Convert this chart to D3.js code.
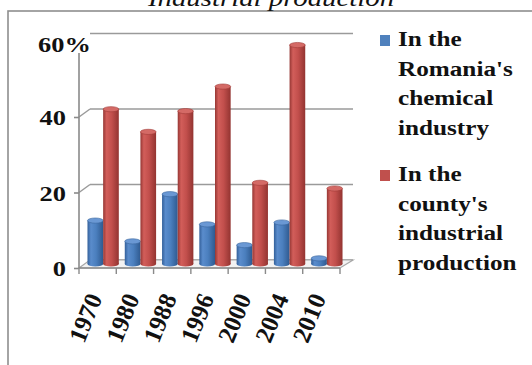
<!DOCTYPE html>
<html>
<head>
<meta charset="utf-8">
<script src="https://cdn.jsdelivr.net/npm/d3@7/dist/d3.min.js"></script>
<style>
  html, body { margin: 0; padding: 0; background: #fff; }
  svg { display: block; }
  text { font-family: "Liberation Serif", "Times New Roman", serif; }
</style>
</head>
<body>
<svg id="chart" width="532" height="365"></svg>
<script>
// Share of the county's output, by year (%)
const years = ["1970", "1980", "1988", "1996", "2000", "2004", "2010"];
const chemicalShare = [11.5, 6, 18.5, 10.5, 5, 11, 1.5];     // in Romania's chemical industry
const industrialShare = [41, 35, 40.5, 47, 21.5, 58, 20];    // in the county's industrial production
const yTicks = [0, 20, 40, 60];
const yTickLabels = ["0", "20", "40", "60%"];
const seriesKeys = ["chem", "ind"];
const legendLines = [
  ["In the", "Romania's", "chemical", "industry"],
  ["In the", "county's", "industrial", "production"]
];
const titleText = "Industrial production";

const FONT = "'Liberation Serif', 'Times New Roman', serif";
const svg = d3.select("#chart");
const SX = 1.2; // horizontal stretch applied to the lettering

// Frame around the chart
svg.append("rect")
  .attr("x", 8).attr("y", 11).attr("width", 600).attr("height", 400)
  .attr("fill", "#fff").attr("stroke", "#8e8e8e").attr("stroke-width", 1.6);

// Title
svg.append("text")
  .attr("transform", `translate(271,6) scale(${SX},1)`)
  .attr("text-anchor", "middle")
  .attr("font-family", FONT)
  .attr("font-style", "italic")
  .attr("font-size", 24)
  .attr("fill", "#111")
  .text(titleText);

// 3D geometry: front plane and depth offset of the back wall
const front = { x0: 79, x1: 340 };
const depth = { dx: 11, dy: -8 };

const yFront = d3.scaleLinear().domain([0, 60]).range([268, 41.5]);
const yBack = v => yFront(v) + depth.dy;
const yMid = v => yFront(v) + depth.dy / 2;

const x = d3.scaleBand().domain(years).range([front.x0, front.x1])
  .paddingInner(0.16).paddingOuter(0.08);
const xs = d3.scaleBand().domain(seriesKeys).range([0, x.bandwidth()]);
const xTick = d3.scaleBand().domain(years).range([front.x0, front.x1]);

const gridColor = "#9a9a9a";

// Back-wall gridlines and their side-wall returns
const grid = svg.append("g");
yTicks.forEach(t => {
  grid.append("line")
    .attr("x1", front.x0 + depth.dx).attr("x2", front.x1 + depth.dx + 2)
    .attr("y1", yBack(t)).attr("y2", yBack(t))
    .attr("stroke", gridColor).attr("stroke-width", 1.6);
  if (t > 0 && t < 60) {
    grid.append("line")
      .attr("x1", front.x0).attr("y1", yFront(t))
      .attr("x2", front.x0 + depth.dx).attr("y2", yBack(t))
      .attr("stroke", gridColor).attr("stroke-width", 1.4);
  }
});

// Floor
svg.append("path")
  .attr("d", `M${front.x0},${yFront(0)} L${front.x1},${yFront(0)} L${front.x1 + depth.dx + 2},${yBack(0)} L${front.x0 + depth.dx},${yBack(0)} Z`)
  .attr("fill", "#f2f2f2").attr("stroke", "#a8a8a8").attr("stroke-width", 1.2);

// Cylinder shading
const defs = svg.append("defs");
function grad(id, stops) {
  const g = defs.append("linearGradient").attr("id", id)
    .attr("x1", "0%").attr("x2", "100%").attr("y1", "0%").attr("y2", "0%");
  stops.forEach(([o, c]) => g.append("stop").attr("offset", o).attr("stop-color", c));
}
grad("gChem", [["0%", "#33609a"], ["22%", "#5a8ccc"], ["55%", "#4b7fbe"], ["100%", "#2f5a90"]]);
grad("gInd", [["0%", "#963734"], ["22%", "#d25e5a"], ["55%", "#c24f4c"], ["100%", "#933431"]]);
const styles = {
  chem: { fill: "url(#gChem)", cap: "#6a98d4", edge: "#3a669e" },
  ind: { fill: "url(#gInd)", cap: "#d46a66", edge: "#a13b38" }
};

const rows = years.map((yr, i) => ({ yr, chem: chemicalShare[i], ind: industrialShare[i] }));
const bars = svg.append("g");
rows.forEach(r => {
  seriesKeys.forEach(k => {
    const bx = x(r.yr) + xs(k) + depth.dx / 2;
    const bw = xs.bandwidth();
    const yt = yMid(r[k]);
    const yb = yMid(0);
    const st = styles[k];
    const ry = 2.6;
    const g = bars.append("g");
    g.append("ellipse").attr("cx", bx + bw / 2).attr("cy", yb).attr("rx", bw / 2).attr("ry", ry)
      .attr("fill", st.fill);
    g.append("rect").attr("x", bx).attr("y", yt).attr("width", bw).attr("height", Math.max(0, yb - yt))
      .attr("fill", st.fill);
    g.append("ellipse").attr("cx", bx + bw / 2).attr("cy", yt).attr("rx", bw / 2).attr("ry", ry)
      .attr("fill", st.cap).attr("stroke", st.edge).attr("stroke-width", 0.6);
  });
});

// Vertical axis (front edge)
svg.append("line")
  .attr("x1", front.x0).attr("x2", front.x0)
  .attr("y1", 53).attr("y2", yFront(0))
  .attr("stroke", "#8a8a8a").attr("stroke-width", 1.6);

const yAxis = svg.append("g")
  .attr("transform", `translate(${front.x0},0)`)
  .call(d3.axisLeft(yFront).tickValues(yTicks.slice(0, 3)).tickSize(5).tickFormat(""));
yAxis.select(".domain").remove();
yAxis.selectAll(".tick line").attr("stroke", "#8a8a8a").attr("stroke-width", 1.6);

const yLab = svg.append("g");
yTicks.forEach((t, i) => {
  const is60 = t === 60;
  yLab.append("text")
    .attr("transform", is60 ? `translate(38,${yFront(t) + 10}) scale(${SX},1)`
                            : `translate(66,${yFront(t) + 8}) scale(${SX},1)`)
    .attr("text-anchor", is60 ? "start" : "end")
    .attr("font-family", FONT)
    .attr("font-weight", "bold")
    .attr("font-size", 22)
    .attr("fill", "#111")
    .text(yTickLabels[i]);
});

// Horizontal axis ticks and rotated year labels
const xAxis = svg.append("g")
  .attr("transform", `translate(0,${yFront(0)})`)
  .call(d3.axisBottom(xTick).tickSize(0).tickFormat(""));
xAxis.select(".domain").remove();
const tickXs = years.map(y => xTick(y)).concat([front.x1]);
tickXs.forEach(tx => {
  svg.append("line").attr("x1", tx).attr("x2", tx)
    .attr("y1", yFront(0)).attr("y2", yFront(0) + 6)
    .attr("stroke", "#8a8a8a").attr("stroke-width", 1.4);
});
svg.append("line").attr("x1", front.x0).attr("x2", front.x1)
  .attr("y1", yFront(0)).attr("y2", yFront(0))
  .attr("stroke", "#8a8a8a").attr("stroke-width", 1.4);

years.forEach(yr => {
  const cx = xTick(yr) + xTick.bandwidth() / 2;
  svg.append("text")
    .attr("transform", `translate(${cx + 5},${yFront(0) + 30}) rotate(-68)`)
    .attr("text-anchor", "end")
    .attr("font-family", FONT)
    .attr("font-weight", "bold")
    .attr("font-size", 25)
    .attr("fill", "#111")
    .text(yr);
});

// Legend
const legColors = ["#4f81bd", "#c0504d"];
const legTop = [46, 181];
legendLines.forEach((lines, i) => {
  svg.append("rect")
    .attr("x", 380).attr("y", legTop[i] - 11).attr("width", 10).attr("height", 11)
    .attr("fill", legColors[i]);
  lines.forEach((ln, j) => {
    svg.append("text")
      .attr("transform", `translate(398,${legTop[i] + j * 29.5}) scale(${SX},1)`)
      .attr("font-family", FONT)
      .attr("font-weight", "bold")
      .attr("font-size", 21)
      .attr("fill", "#111")
      .text(ln);
  });
});
</script>
</body>
</html>
